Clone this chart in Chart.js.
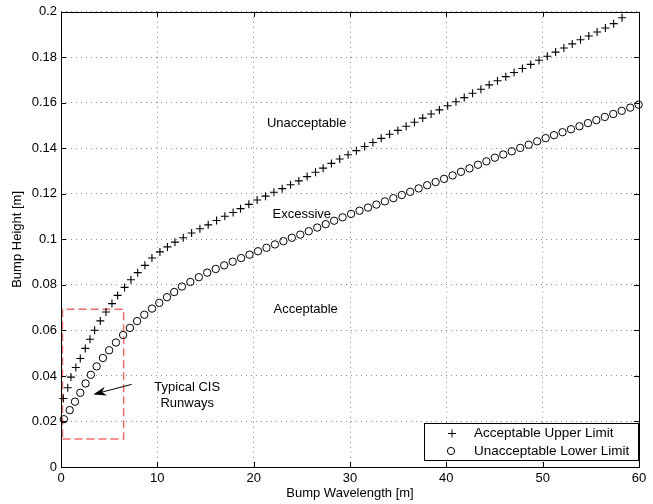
<!DOCTYPE html>
<html>
<head>
<meta charset="utf-8">
<script src="https://cdn.jsdelivr.net/npm/chart.js@4"></script>
<style>
  body { margin: 0; background: #fff; }
  canvas { display: block; }
</style>
</head>
<body>
<canvas id="bumpChart" width="653" height="504"></canvas>
<script>
// values
var upperX = [0.24,0.70,1.03,1.54,2.00,2.52,3.01,3.49,4.08,4.67,5.29,5.88,6.60,7.26,7.96,8.71,9.44,10.27,11.05,11.83,
  12.69,13.56,14.42,15.28,16.15,17.01,17.87,18.64,19.50,20.36,21.23,22.10,22.96,23.83,24.69,25.55,26.42,
  27.21,28.07,28.93,29.80,30.66,31.52,32.38,33.24,34.11,34.97,35.83,36.69,37.55,38.42,39.28,40.14,41.00,41.86,42.72,43.59,
  44.45,45.31,46.17,47.03,47.90,48.76,49.62,50.48,51.34,52.20,53.07,53.93,54.79,55.65,56.51,57.37,58.24];
var upperY = [0.0301,0.0348,0.0395,0.0437,0.0477,0.0521,0.0561,0.0601,0.0642,0.0681,0.0718,0.0754,0.0789,0.0823,0.0854,0.0886,0.0918,0.0945,0.0967,0.0988,
  0.1007,0.1028,0.1047,0.1064,0.1083,0.1102,0.1118,0.1135,0.1154,0.1173,0.1190,0.1207,0.1223,0.1240,0.1257,0.1276,0.1295,
  0.1313,0.1334,0.1353,0.1372,0.1390,0.1408,0.1426,0.1444,0.1462,0.1479,0.1497,0.1515,0.1533,0.1551,0.1569,0.1587,0.1605,0.1623,0.1642,0.1660,
  0.1679,0.1697,0.1715,0.1733,0.1751,0.1769,0.1787,0.1805,0.1823,0.1841,0.1859,0.1877,0.1894,0.1911,0.1929,0.1948,0.1974];

var lowerX = [0.3,0.9,1.45,2.0,2.55,3.1,3.7,4.35,5.0,5.7,6.45,7.15,7.9,8.65,9.45,10.2,11.0,11.75,
  12.55,13.43,14.31,15.18,16.06,16.94,17.82,18.70,19.57,20.45,21.33,22.21,23.09,23.96,24.84,25.72,26.60,27.48,28.35,29.23,
  30.11,30.99,31.87,32.74,33.62,34.50,35.38,36.25,37.13,38.01,38.89,39.77,40.65,41.52,42.40,43.28,44.16,45.04,45.91,46.79,
  47.67,48.55,49.43,50.31,51.18,52.06,52.94,53.82,54.70,55.57,56.45,57.33,58.21,59.09,59.96];
var lowerY = [0.0210,0.0250,0.0287,0.0326,0.0367,0.0405,0.0442,0.0479,0.0513,0.0547,0.0580,0.0611,0.0641,0.0669,0.0696,0.0721,0.0746,0.0769,
  0.0793,0.0813,0.0834,0.0854,0.0870,0.0886,0.0902,0.0918,0.0933,0.0948,0.0963,0.0978,0.0992,0.1007,0.1021,0.1036,0.1052,0.1067,0.1082,0.1097,
  0.1112,0.1126,0.1140,0.1153,0.1167,0.1181,0.1195,0.1209,0.1224,0.1238,0.1252,0.1266,0.1281,0.1297,0.1312,0.1328,0.1343,0.1359,0.1373,0.1387,
  0.1402,0.1416,0.1431,0.1445,0.1458,0.1471,0.1484,0.1497,0.1511,0.1524,0.1538,0.1551,0.1565,0.1579,0.1592];

// the "Typical CIS Runways" box
var boxX = [0.15, 6.5, 6.5, 0.15, 0.15];
var boxY = [0.0123, 0.0123, 0.0693, 0.0693, 0.0123];

var seriesNames = ['Acceptable Upper Limit', 'Unacceptable Lower Limit'];
var regionLabels = ['Unacceptable', 'Excessive', 'Acceptable'];
var runwayLabel = ['Typical CIS', 'Runways'];

var FONT = '"Liberation Sans", Arial, Helvetica, sans-serif';

function pts(xs, ys) {
  return xs.map(function (x, i) { return {x: x, y: ys[i]}; });
}

// where the texts and the arrow sit (data units)
var notes = {
  regions: [[25.5, 0.1509], [25.0, 0.1110], [25.4, 0.0693]],
  runway: [[13.1, 0.0351], [13.1, 0.0281]],
  arrowFrom: [7.33, 0.0363],
  arrowTo: [3.35, 0.0319]
};

var matlabLook = {
  id: 'matlabLook',
  afterDraw: function (chart) {
    var ctx = chart.ctx;
    var a = chart.chartArea;
    var xs = chart.scales.x, ys = chart.scales.y;
    ctx.save();

    // region texts
    ctx.fillStyle = '#000';
    ctx.font = '13px ' + FONT;
    ctx.textAlign = 'center';
    ctx.textBaseline = 'middle';
    regionLabels.forEach(function (t, i) {
      ctx.fillText(t, xs.getPixelForValue(notes.regions[i][0]), ys.getPixelForValue(notes.regions[i][1]));
    });
    runwayLabel.forEach(function (t, i) {
      ctx.fillText(t, xs.getPixelForValue(notes.runway[i][0]), ys.getPixelForValue(notes.runway[i][1]));
    });

    // arrow
    var x0 = xs.getPixelForValue(notes.arrowFrom[0]), y0 = ys.getPixelForValue(notes.arrowFrom[1]);
    var x1 = xs.getPixelForValue(notes.arrowTo[0]), y1 = ys.getPixelForValue(notes.arrowTo[1]);
    var ang = Math.atan2(y1 - y0, x1 - x0);
    ctx.strokeStyle = '#000';
    ctx.lineWidth = 1;
    ctx.beginPath();
    ctx.moveTo(x0, y0);
    ctx.lineTo(x1 - Math.cos(ang) * 8, y1 - Math.sin(ang) * 8);
    ctx.stroke();
    ctx.beginPath();
    ctx.moveTo(x1, y1);
    ctx.lineTo(x1 - Math.cos(ang) * 13 + Math.sin(ang) * 4.5, y1 - Math.sin(ang) * 13 - Math.cos(ang) * 4.5);
    ctx.lineTo(x1 - Math.cos(ang) * 9, y1 - Math.sin(ang) * 9);
    ctx.lineTo(x1 - Math.cos(ang) * 13 - Math.sin(ang) * 4.5, y1 - Math.sin(ang) * 13 + Math.cos(ang) * 4.5);
    ctx.closePath();
    ctx.fillStyle = '#000';
    ctx.fill();

    // box and inward ticks
    ctx.strokeStyle = '#000';
    ctx.lineWidth = 1;
    ctx.strokeRect(Math.round(a.left) + 0.5, Math.round(a.top) + 0.5, Math.round(a.right - a.left), Math.round(a.bottom - a.top));
    ctx.beginPath();
    xs.ticks.forEach(function (t) {
      var px = Math.round(xs.getPixelForValue(t.value)) + 0.5;
      ctx.moveTo(px, a.bottom); ctx.lineTo(px, a.bottom - 5);
      ctx.moveTo(px, a.top); ctx.lineTo(px, a.top + 5);
    });
    ys.ticks.forEach(function (t) {
      var py = Math.round(ys.getPixelForValue(t.value)) + 0.5;
      ctx.moveTo(a.left, py); ctx.lineTo(a.left + 5, py);
      ctx.moveTo(a.right, py); ctx.lineTo(a.right - 5, py);
    });
    ctx.stroke();

    // legend inside the axes
    var lx1 = Math.round(a.right) - 215, lx2 = Math.round(a.right) - 1;
    var ly1 = Math.round(a.bottom) - 44, ly2 = Math.round(a.bottom) - 7;
    ctx.fillStyle = '#fff';
    ctx.fillRect(lx1, ly1, lx2 - lx1, ly2 - ly1);
    ctx.strokeRect(lx1 + 0.5, ly1 + 0.5, lx2 - lx1, ly2 - ly1);
    var rows = [ly1 + 10.5, ly1 + 28];
    ctx.beginPath();
    ctx.moveTo(lx1 + 24, rows[0]); ctx.lineTo(lx1 + 32, rows[0]);
    ctx.moveTo(lx1 + 28, rows[0] - 4); ctx.lineTo(lx1 + 28, rows[0] + 4);
    ctx.stroke();
    ctx.beginPath();
    ctx.arc(lx1 + 27, rows[1], 3.6, 0, Math.PI * 2);
    ctx.stroke();
    ctx.fillStyle = '#000';
    ctx.textAlign = 'left';
    ctx.font = '13.5px ' + FONT;
    seriesNames.forEach(function (n, i) {
      ctx.fillText(n, lx1 + 50, rows[i]);
    });
    ctx.restore();
  }
};

Chart.defaults.font.family = FONT;
Chart.defaults.font.size = 13;
Chart.defaults.color = '#000';

new Chart(document.getElementById('bumpChart'), {
  type: 'scatter',
  data: {
    datasets: [
      {
        label: seriesNames[0],
        data: pts(upperX, upperY),
        pointStyle: 'cross',
        pointRadius: 4,
        borderColor: '#000',
        borderWidth: 1.1,
        clip: false
      },
      {
        label: seriesNames[1],
        data: pts(lowerX, lowerY),
        pointStyle: 'circle',
        pointRadius: 3.7,
        borderColor: '#000',
        backgroundColor: 'rgba(0,0,0,0)',
        borderWidth: 1,
        clip: false
      },
      {
        label: 'box',
        data: pts(boxX, boxY),
        showLine: true,
        pointRadius: 0,
        borderColor: 'rgba(235,70,70,0.8)',
        borderWidth: 1.5,
        borderDash: [8, 4],
        fill: false,
        clip: false
      }
    ]
  },
  options: {
    responsive: false,
    animation: false,
    layout: { padding: { left: 0, right: 14, top: 11, bottom: 0 } },
    plugins: { legend: { display: false }, tooltip: { enabled: false } },
    scales: {
      x: {
        type: 'linear',
        min: 0, max: 60,
        ticks: { stepSize: 10, padding: 4 },
        grid: { color: '#8a8a8a', drawTicks: false },
        border: { display: false, dash: [1, 4] },
        title: { display: true, text: 'Bump Wavelength [m]', padding: { top: 0, bottom: 3 } },
        afterFit: function (s) { s.height = 37; }
      },
      y: {
        type: 'linear',
        min: 0, max: 0.2,
        ticks: {
          stepSize: 0.02, padding: 4,
          callback: function (v) { return String(+v.toFixed(2)); }
        },
        grid: { color: '#8a8a8a', drawTicks: false },
        border: { display: false, dash: [1, 4] },
        title: { display: true, text: 'Bump Height [m]', padding: { top: 10, bottom: 0 } },
        afterFit: function (s) { s.width = 61; }
      }
    }
  },
  plugins: [matlabLook]
});
</script>
</body>
</html>
